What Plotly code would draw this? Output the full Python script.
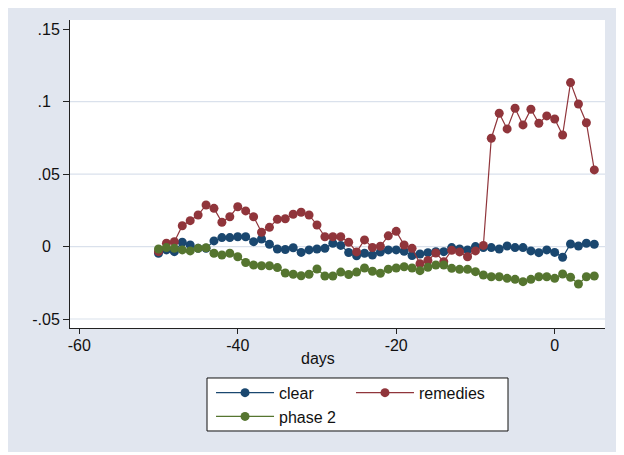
import plotly.graph_objects as go

days = [-50, -49, -48, -47, -46, -45, -44, -43, -42, -41, -40, -39, -38, -37,
        -36, -35, -34, -33, -32, -31, -30, -29, -28, -27, -26, -25, -24, -23,
        -22, -21, -20, -19, -18, -17, -16, -15, -14, -13, -12, -11, -10, -9,
        -8, -7, -6, -5, -4, -3, -2, -1, 0, 1, 2, 3, 4, 5]

clear = [-0.0046, -0.0023, -0.0035, 0.0030, 0.0011, -0.0012, -0.0012, 0.0039,
         0.0062, 0.0062, 0.0068, 0.0068, 0.0034, 0.0052, 0.0016, -0.0017,
         -0.0020, -0.0008, -0.0040, -0.0023, -0.0017, -0.0012, 0.0023, 0.0008,
         -0.0041, -0.0064, -0.0046, -0.0058, -0.0038, -0.0023, -0.0023, -0.0032,
         -0.0062, -0.0051, -0.0042, -0.0035, -0.0035, -0.0007, -0.0017, -0.0023,
         0.0000, -0.0007, -0.0007, -0.0017, 0.0004, -0.0007, -0.0007, -0.0030,
         -0.0042, -0.0023, -0.0040, -0.0074, 0.0018, 0.0004, 0.0023, 0.0016]

remedies = [-0.0035, 0.0023, 0.0034, 0.0144, 0.0179, 0.0218, 0.0287, 0.0264,
            0.0168, 0.0206, 0.0275, 0.0246, 0.0206, 0.0099, 0.0133, 0.0188,
            0.0192, 0.0223, 0.0237, 0.0218, 0.0149, 0.0068, 0.0068, 0.0068,
            0.0030, -0.0037, 0.0046, -0.0006, 0.0002, 0.0074, 0.0105, 0.0011,
            -0.0012, -0.0118, -0.0096, -0.0044, -0.0104, -0.0026, -0.0037, -0.0070,
            -0.0030, 0.0008, 0.0748, 0.0920, 0.0812, 0.0955, 0.0840, 0.0948,
            0.0851, 0.0902, 0.0881, 0.0770, 0.1132, 0.0984, 0.0855, 0.0529]

phase2 = [-0.0017, -0.0007, -0.0012, -0.0023, -0.0030, -0.0012, -0.0008, -0.0046,
          -0.0058, -0.0046, -0.0070, -0.0110, -0.0127, -0.0132, -0.0132, -0.0145,
          -0.0182, -0.0191, -0.0201, -0.0191, -0.0155, -0.0203, -0.0203, -0.0176,
          -0.0193, -0.0176, -0.0148, -0.0170, -0.0184, -0.0156, -0.0148, -0.0139,
          -0.0148, -0.0166, -0.0143, -0.0127, -0.0127, -0.0150, -0.0157, -0.0157,
          -0.0173, -0.0196, -0.0208, -0.0208, -0.0219, -0.0226, -0.0242, -0.0226,
          -0.0208, -0.0208, -0.0219, -0.0189, -0.0212, -0.0258, -0.0208, -0.0203]

series_names = ["clear", "remedies", "phase 2"]
series_colors = ["#1A476F", "#90353B", "#55752F"]
series_legends = ["legend", "legend2", "legend"]

x_tickvals = [-60, -40, -20, 0]
x_ticktext = ["-60", "-40", "-20", "0"]
y_tickvals = [-0.05, 0, 0.05, 0.1, 0.15]
y_ticktext = ["-.05", "0", ".05", ".1", ".15"]
y_gridvals = [-0.05, 0, 0.05, 0.1]
x_title = "days"

FONT = "Liberation Sans, Arial, sans-serif"
FS = 16
BG = "#E1E6EF"
TXT = "#111111"
NB = "\u00a0"

# Stata centres the y labels; pad the short ones so they sit alike
y_pad = {"0": 2, ".1": 2, "-.05": 0, ".05": 0, ".15": 0}
y_ticktext_shown = [t + NB * y_pad[t] for t in y_ticktext]

fig = go.Figure()
for name, ys, col, lg in zip(series_names, [clear, remedies, phase2],
                             series_colors, series_legends):
    fig.add_trace(go.Scatter(
        x=days, y=ys, name=name, mode="lines+markers", legend=lg,
        line=dict(color=col, width=1.2),
        marker=dict(color=col, size=9, symbol="circle"),
    ))

shapes = [
    # outer graph region
    dict(type="rect", xref="paper", yref="paper", x0=-0.1159, x1=1.0299,
         y0=-0.4026, y1=1.039, fillcolor=BG, line=dict(width=0), layer="below"),
    # plot region
    dict(type="rect", xref="paper", yref="paper", x0=0, x1=1, y0=0, y1=1,
         fillcolor="white", line=dict(width=0), layer="below"),
    # legend box
    dict(type="rect", xref="paper", yref="paper", x0=0.2561, x1=0.8187,
         y0=-0.3344, y1=-0.1623, fillcolor="white",
         line=dict(color=TXT, width=1), layer="below"),
]
for gv in y_gridvals:
    shapes.append(dict(type="line", xref="paper", yref="y", x0=0, x1=1, y0=gv, y1=gv,
                       line=dict(color="#DAE1EC", width=1.2), layer="below"))

legend_common = dict(
    orientation="v", yanchor="top", xanchor="left",
    bgcolor="rgba(0,0,0,0)", borderwidth=0, itemwidth=58,
    font=dict(family=FONT, size=FS, color=TXT), tracegroupgap=0,
)

fig.update_layout(
    width=616, height=447,
    margin=dict(l=62, r=19, t=12, b=127, autoexpand=False),
    paper_bgcolor="white", plot_bgcolor="rgba(0,0,0,0)",
    font=dict(family=FONT, size=FS, color=TXT),
    shapes=shapes,
    showlegend=True,
    legend=dict(x=0.2636, y=-0.155, **legend_common),
    legend2=dict(x=0.5252, y=-0.155, **legend_common),
    annotations=[dict(text=x_title, xref="paper", yref="paper", x=0.4636, y=-0.1006,
                      xanchor="center", yanchor="middle", showarrow=False,
                      font=dict(family=FONT, size=FS, color=TXT))],
)
fig.update_xaxes(
    range=[-61.17, 6.35], tickvals=x_tickvals, ticktext=x_ticktext,
    showgrid=False, zeroline=False, showline=True, linecolor="#222222", linewidth=1,
    ticks="outside", ticklen=5, tickcolor="#222222", tickwidth=1,
    ticklabelstandoff=-2,
    tickfont=dict(family=FONT, size=FS, color=TXT),
    automargin=False,
)
fig.update_yaxes(
    range=[-0.0562, 0.1564], tickvals=y_tickvals, ticktext=y_ticktext_shown,
    showgrid=False, zeroline=False, showline=True, linecolor="#222222", linewidth=1,
    ticks="outside", ticklen=6, tickcolor="#222222", tickwidth=1,
    tickfont=dict(family=FONT, size=FS, color=TXT),
    automargin=False,
)

fig.write_html("out.html")
